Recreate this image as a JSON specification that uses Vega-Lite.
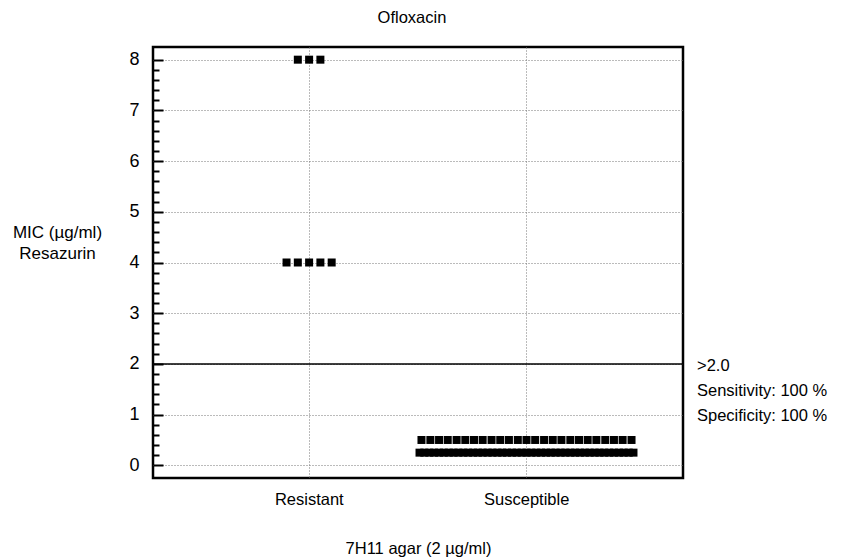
{
  "$schema": "https://vega.github.io/schema/vega-lite/v6.json",
  "width": 530,
  "height": 431,
  "autosize": {"type": "none"},
  "padding": {"left": 153, "top": 47, "right": 163, "bottom": 81},
  "background": "white",
  "config": {
    "font": "Liberation Sans",
    "view": {"stroke": "black", "strokeWidth": 2.5},
    "axis": {"domain": false, "labelColor": "black", "titleColor": "black", "labelFont": "Liberation Sans", "titleFont": "Liberation Sans", "titleFontWeight": "normal"}
  },
  "title": {"text": "Ofloxacin", "fontSize": 16.5, "fontWeight": "normal", "font": "Liberation Sans", "color": "black", "offset": 21, "dx": -6},
  "layer": [
    {
      "data": {"values": [
        {"group": "Resistant", "mic": 8, "k": -0.052},
        {"group": "Resistant", "mic": 8, "k": 0},
        {"group": "Resistant", "mic": 8, "k": 0.052},
        {"group": "Resistant", "mic": 4, "k": -0.104},
        {"group": "Resistant", "mic": 4, "k": -0.052},
        {"group": "Resistant", "mic": 4, "k": 0},
        {"group": "Resistant", "mic": 4, "k": 0.052},
        {"group": "Resistant", "mic": 4, "k": 0.104},
        {"group": "Susceptible", "mic": 0.5, "k": -0.484},
        {"group": "Susceptible", "mic": 0.5, "k": -0.443},
        {"group": "Susceptible", "mic": 0.5, "k": -0.403},
        {"group": "Susceptible", "mic": 0.5, "k": -0.363},
        {"group": "Susceptible", "mic": 0.5, "k": -0.322},
        {"group": "Susceptible", "mic": 0.5, "k": -0.282},
        {"group": "Susceptible", "mic": 0.5, "k": -0.242},
        {"group": "Susceptible", "mic": 0.5, "k": -0.202},
        {"group": "Susceptible", "mic": 0.5, "k": -0.161},
        {"group": "Susceptible", "mic": 0.5, "k": -0.121},
        {"group": "Susceptible", "mic": 0.5, "k": -0.081},
        {"group": "Susceptible", "mic": 0.5, "k": -0.040},
        {"group": "Susceptible", "mic": 0.5, "k": 0},
        {"group": "Susceptible", "mic": 0.5, "k": 0.040},
        {"group": "Susceptible", "mic": 0.5, "k": 0.081},
        {"group": "Susceptible", "mic": 0.5, "k": 0.121},
        {"group": "Susceptible", "mic": 0.5, "k": 0.161},
        {"group": "Susceptible", "mic": 0.5, "k": 0.202},
        {"group": "Susceptible", "mic": 0.5, "k": 0.242},
        {"group": "Susceptible", "mic": 0.5, "k": 0.282},
        {"group": "Susceptible", "mic": 0.5, "k": 0.322},
        {"group": "Susceptible", "mic": 0.5, "k": 0.363},
        {"group": "Susceptible", "mic": 0.5, "k": 0.403},
        {"group": "Susceptible", "mic": 0.5, "k": 0.443},
        {"group": "Susceptible", "mic": 0.5, "k": 0.484},
        {"group": "Susceptible", "mic": 0.25, "k": -0.493},
        {"group": "Susceptible", "mic": 0.25, "k": -0.471},
        {"group": "Susceptible", "mic": 0.25, "k": -0.448},
        {"group": "Susceptible", "mic": 0.25, "k": -0.426},
        {"group": "Susceptible", "mic": 0.25, "k": -0.403},
        {"group": "Susceptible", "mic": 0.25, "k": -0.381},
        {"group": "Susceptible", "mic": 0.25, "k": -0.358},
        {"group": "Susceptible", "mic": 0.25, "k": -0.336},
        {"group": "Susceptible", "mic": 0.25, "k": -0.314},
        {"group": "Susceptible", "mic": 0.25, "k": -0.291},
        {"group": "Susceptible", "mic": 0.25, "k": -0.269},
        {"group": "Susceptible", "mic": 0.25, "k": -0.246},
        {"group": "Susceptible", "mic": 0.25, "k": -0.224},
        {"group": "Susceptible", "mic": 0.25, "k": -0.202},
        {"group": "Susceptible", "mic": 0.25, "k": -0.179},
        {"group": "Susceptible", "mic": 0.25, "k": -0.157},
        {"group": "Susceptible", "mic": 0.25, "k": -0.134},
        {"group": "Susceptible", "mic": 0.25, "k": -0.112},
        {"group": "Susceptible", "mic": 0.25, "k": -0.090},
        {"group": "Susceptible", "mic": 0.25, "k": -0.067},
        {"group": "Susceptible", "mic": 0.25, "k": -0.045},
        {"group": "Susceptible", "mic": 0.25, "k": -0.022},
        {"group": "Susceptible", "mic": 0.25, "k": 0},
        {"group": "Susceptible", "mic": 0.25, "k": 0.022},
        {"group": "Susceptible", "mic": 0.25, "k": 0.045},
        {"group": "Susceptible", "mic": 0.25, "k": 0.067},
        {"group": "Susceptible", "mic": 0.25, "k": 0.090},
        {"group": "Susceptible", "mic": 0.25, "k": 0.112},
        {"group": "Susceptible", "mic": 0.25, "k": 0.134},
        {"group": "Susceptible", "mic": 0.25, "k": 0.157},
        {"group": "Susceptible", "mic": 0.25, "k": 0.179},
        {"group": "Susceptible", "mic": 0.25, "k": 0.202},
        {"group": "Susceptible", "mic": 0.25, "k": 0.224},
        {"group": "Susceptible", "mic": 0.25, "k": 0.246},
        {"group": "Susceptible", "mic": 0.25, "k": 0.269},
        {"group": "Susceptible", "mic": 0.25, "k": 0.291},
        {"group": "Susceptible", "mic": 0.25, "k": 0.314},
        {"group": "Susceptible", "mic": 0.25, "k": 0.336},
        {"group": "Susceptible", "mic": 0.25, "k": 0.358},
        {"group": "Susceptible", "mic": 0.25, "k": 0.381},
        {"group": "Susceptible", "mic": 0.25, "k": 0.403},
        {"group": "Susceptible", "mic": 0.25, "k": 0.426},
        {"group": "Susceptible", "mic": 0.25, "k": 0.448},
        {"group": "Susceptible", "mic": 0.25, "k": 0.471},
        {"group": "Susceptible", "mic": 0.25, "k": 0.493}
      ]},
      "mark": {"type": "square", "filled": true, "color": "black", "size": 64, "opacity": 1},
      "encoding": {
        "x": {
          "field": "group", "type": "nominal",
          "scale": {"type": "band", "domain": ["Resistant", "Susceptible"], "paddingInner": 0, "paddingOuter": 0.219},
          "axis": {
            "title": "7H11 agar (2 µg/ml)", "titleFontSize": 16.5, "titlePadding": 33,
            "labelAngle": 0, "labelFontSize": 16.5, "labelPadding": 13,
            "ticks": false, "grid": true, "gridColor": "#777", "gridDash": [1, 2], "gridWidth": 1, "bandPosition": 0.5
          }
        },
        "xOffset": {"field": "k", "type": "quantitative", "scale": {"domain": [-0.5, 0.5], "range": [0, 217]}},
        "y": {
          "field": "mic", "type": "quantitative",
          "scale": {"domain": [-0.25, 8.25], "nice": false, "zero": false},
          "axis": {
            "values": [0, 0.2, 0.4, 0.6, 0.8, 1, 1.2, 1.4, 1.6, 1.8, 2, 2.2, 2.4, 2.6, 2.8, 3, 3.2, 3.4, 3.6, 3.8, 4, 4.2, 4.4, 4.6, 4.8, 5, 5.2, 5.4, 5.6, 5.8, 6, 6.2, 6.4, 6.6, 6.8, 7, 7.2, 7.4, 7.6, 7.8, 8],
            "tickCount": 100,
            "format": ".0f",
            "labelOverlap": false,
            "labelExpr": "abs(datum.value - round(datum.value)) < 0.01 ? datum.label : ''",
            "labelFontSize": 18, "labelPadding": 24,
            "tickColor": "black", "tickWidth": 2,
            "tickSize": {"condition": {"test": "abs(datum.value - round(datum.value)) < 0.01", "value": -10}, "value": -6},
            "grid": true, "gridColor": "#777", "gridDash": [1, 2], "gridWidth": 1,
            "gridOpacity": {"condition": {"test": "abs(datum.value - round(datum.value)) < 0.01", "value": 1}, "value": 0},
            "title": ["MIC (µg/ml)", "Resazurin"], "titleAngle": 0, "titleFontSize": 17,
            "titleAlign": "center", "titleBaseline": "top", "titleX": -96, "titleY": 177, "titleLineHeight": 21
          }
        }
      }
    },
    {
      "data": {"values": [{"cutoff": 2}]},
      "mark": {"type": "rule", "color": "black", "strokeWidth": 1.5},
      "encoding": {"y": {"field": "cutoff", "type": "quantitative"}}
    },
    {
      "data": {"values": [{"cutoff": 2, "lines": [">2.0", "Sensitivity: 100 %", "Specificity: 100 %"]}]},
      "mark": {"type": "text", "align": "left", "baseline": "top", "fontSize": 16.5, "lineHeight": 25, "dx": 14, "dy": -6, "color": "black", "font": "Liberation Sans"},
      "encoding": {
        "x": {"value": "width"},
        "y": {"field": "cutoff", "type": "quantitative"},
        "text": {"field": "lines"}
      }
    }
  ]
}
